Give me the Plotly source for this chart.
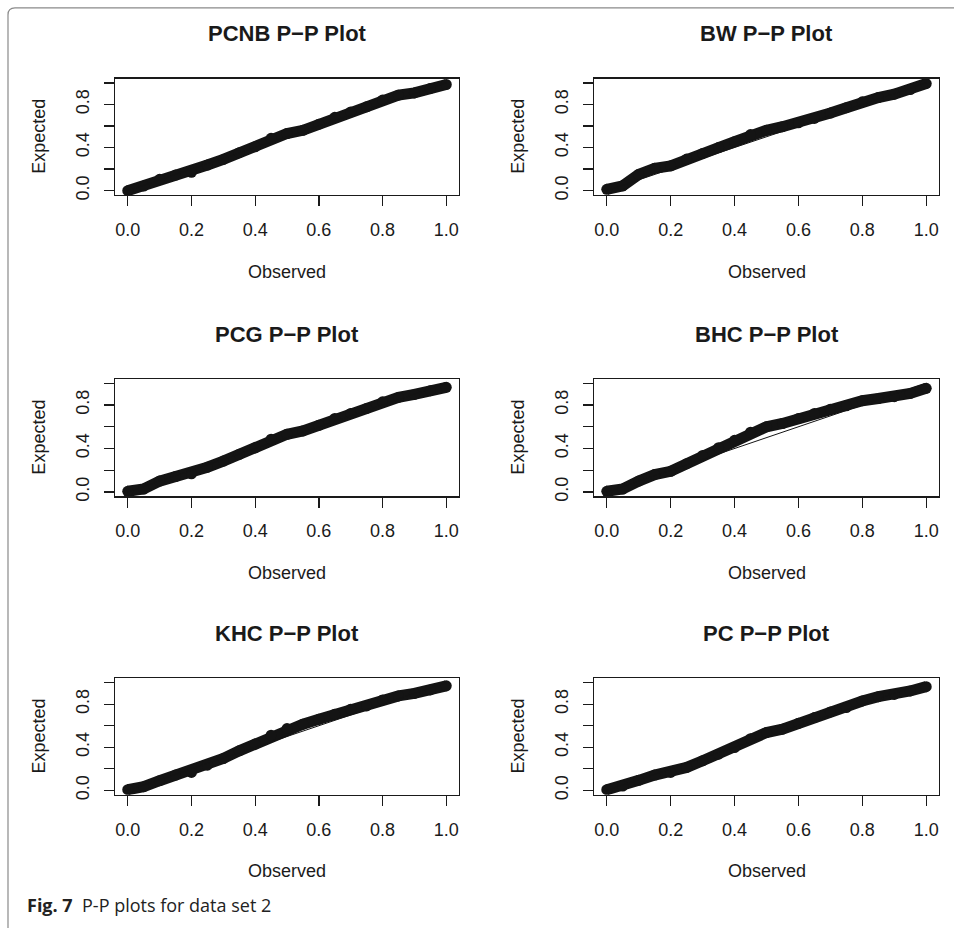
import plotly.graph_objects as go

# ---------------- data ----------------
observed = [0.00, 0.05, 0.10, 0.15, 0.20, 0.25, 0.30, 0.35, 0.40, 0.45, 0.50,
            0.55, 0.60, 0.65, 0.70, 0.75, 0.80, 0.85, 0.90, 0.95, 1.00]

expected_pcnb = [0.000, 0.043, 0.105, 0.145, 0.170, 0.238, 0.290, 0.352, 0.407, 0.485, 0.530,
                 0.560, 0.617, 0.680, 0.730, 0.778, 0.840, 0.886, 0.907, 0.948, 0.985]
expected_bw = [0.012, 0.045, 0.150, 0.207, 0.230, 0.293, 0.345, 0.400, 0.454, 0.520, 0.560,
               0.593, 0.630, 0.670, 0.720, 0.770, 0.824, 0.864, 0.895, 0.938, 0.994]
expected_pcg = [0.006, 0.027, 0.100, 0.142, 0.167, 0.228, 0.284, 0.346, 0.407, 0.485, 0.531,
                0.562, 0.614, 0.676, 0.722, 0.769, 0.830, 0.870, 0.898, 0.932, 0.963]
expected_bhc = [0.006, 0.027, 0.100, 0.160, 0.190, 0.260, 0.336, 0.407, 0.475, 0.550, 0.600,
                0.630, 0.676, 0.722, 0.762, 0.793, 0.840, 0.860, 0.877, 0.907, 0.954]
expected_khc = [0.006, 0.034, 0.090, 0.142, 0.167, 0.234, 0.296, 0.367, 0.430, 0.512, 0.574,
                0.614, 0.660, 0.707, 0.753, 0.784, 0.840, 0.877, 0.900, 0.932, 0.970]
expected_pc = [0.006, 0.040, 0.093, 0.142, 0.167, 0.213, 0.275, 0.336, 0.398, 0.480, 0.537,
               0.568, 0.623, 0.676, 0.728, 0.769, 0.830, 0.870, 0.890, 0.923, 0.963]

panel_titles = ["PCNB P\u2212P Plot", "BW P\u2212P Plot", "PCG P\u2212P Plot",
                "BHC P\u2212P Plot", "KHC P\u2212P Plot", "PC P\u2212P Plot"]
panel_series = [expected_pcnb, expected_bw, expected_pcg, expected_bhc, expected_khc, expected_pc]

ref_line = [0.0, 1.0]
x_tick_vals = [0.0, 0.2, 0.4, 0.6, 0.8, 1.0]
x_tick_text = ["0.0", "0.2", "0.4", "0.6", "0.8", "1.0"]
y_tick_vals = [0.0, 0.2, 0.4, 0.6, 0.8, 1.0]
y_tick_text = ["0.0", "", "0.4", "", "0.8", ""]
x_title = "Observed"
y_title = "Expected"
caption_bold = "Fig. 7"
caption_text = "P-P plots for data set 2"

# ---------------- layout (pixel geometry) ----------------
W, H = 954, 928
col_px = [(115, 459), (594, 939)]
row_px = [(79, 196), (381, 499), (682, 799)]

INK = "#1a1a1a"
FONT = "Liberation Sans"

fig = go.Figure()
layout = dict(
    width=W, height=H,
    margin=dict(l=0, r=0, t=0, b=0),
    paper_bgcolor="white", plot_bgcolor="white",
    showlegend=False,
    font=dict(family=FONT, color=INK, size=18),
)
annotations = []

for i, (title, series) in enumerate(zip(panel_titles, panel_series)):
    r, c = divmod(i, 2)
    x0, x1 = col_px[c]
    yt, yb = row_px[r]
    n = i + 1
    xa = "x" if n == 1 else f"x{n}"
    ya = "y" if n == 1 else f"y{n}"
    xkey = "xaxis" if n == 1 else f"xaxis{n}"
    ykey = "yaxis" if n == 1 else f"yaxis{n}"

    fig.add_trace(go.Scatter(
        x=observed, y=series, mode="lines+markers",
        line=dict(color="#141414", width=11),
        marker=dict(color="#141414", size=11),
        xaxis=xa, yaxis=ya, hoverinfo="skip"))
    fig.add_trace(go.Scatter(
        x=ref_line, y=ref_line, mode="lines",
        line=dict(color="#141414", width=1),
        xaxis=xa, yaxis=ya, hoverinfo="skip"))

    common = dict(range=[-0.04, 1.04], showgrid=False, zeroline=False,
                  showline=True, mirror=True, linecolor=INK, linewidth=1.3,
                  ticks="outside", ticklen=10, tickwidth=1.3, tickcolor=INK,
                  tickfont=dict(family=FONT, size=18, color=INK), fixedrange=True)
    layout[xkey] = dict(common, domain=[x0 / W, x1 / W], anchor=ya,
                        tickmode="array", tickvals=x_tick_vals, ticktext=x_tick_text,
                        ticklabelstandoff=8)
    layout[ykey] = dict(common, domain=[1 - yb / H, 1 - yt / H], anchor=xa,
                        tickmode="array", tickvals=y_tick_vals, ticktext=y_tick_text,
                        tickangle=-90, ticklabelstandoff=8)

    cx = (x0 + x1) / 2
    annotations.append(dict(text=f"<b>{title}</b>", x=cx / W, y=1 - (yt - 45) / H,
                            xref="paper", yref="paper", showarrow=False,
                            xanchor="center", yanchor="middle",
                            font=dict(family=FONT, size=22, color=INK)))
    annotations.append(dict(text=x_title, x=cx / W, y=1 - (yb + 77) / H,
                            xref="paper", yref="paper", showarrow=False,
                            xanchor="center", yanchor="middle",
                            font=dict(family=FONT, size=18, color=INK)))
    annotations.append(dict(text=y_title, x=(x0 - 76) / W, y=1 - ((yt + yb) / 2) / H,
                            xref="paper", yref="paper", showarrow=False, textangle=-90,
                            xanchor="center", yanchor="middle",
                            font=dict(family=FONT, size=18, color=INK)))

annotations.append(dict(text=f"<b>{caption_bold}</b>  {caption_text}",
                        x=25 / W, y=1 - 910 / H, xref="paper", yref="paper",
                        showarrow=False, xanchor="left", yanchor="middle",
                        font=dict(family="Open Sans", size=18, color="#222222")))
layout["annotations"] = annotations

# rounded figure frame (top-left corner visible)
bx, by = 8 / W, 1 - 8 / H
rx, ry = 7 / W, 7 / H
path = (f"M {bx},-0.05 L {bx},{by - ry} Q {bx},{by} {bx + rx},{by} L 1.05,{by}")
layout["shapes"] = [dict(type="path", path=path, xref="paper", yref="paper",
                         line=dict(color="#8a8a8a", width=1.2), layer="above")]

fig.update_layout(**layout)
fig.write_html("out.html",
               config={"displayModeBar": False, "staticPlot": True},
               post_script="document.body.style.margin='0px';"
                           "document.body.style.overflow='hidden';")
